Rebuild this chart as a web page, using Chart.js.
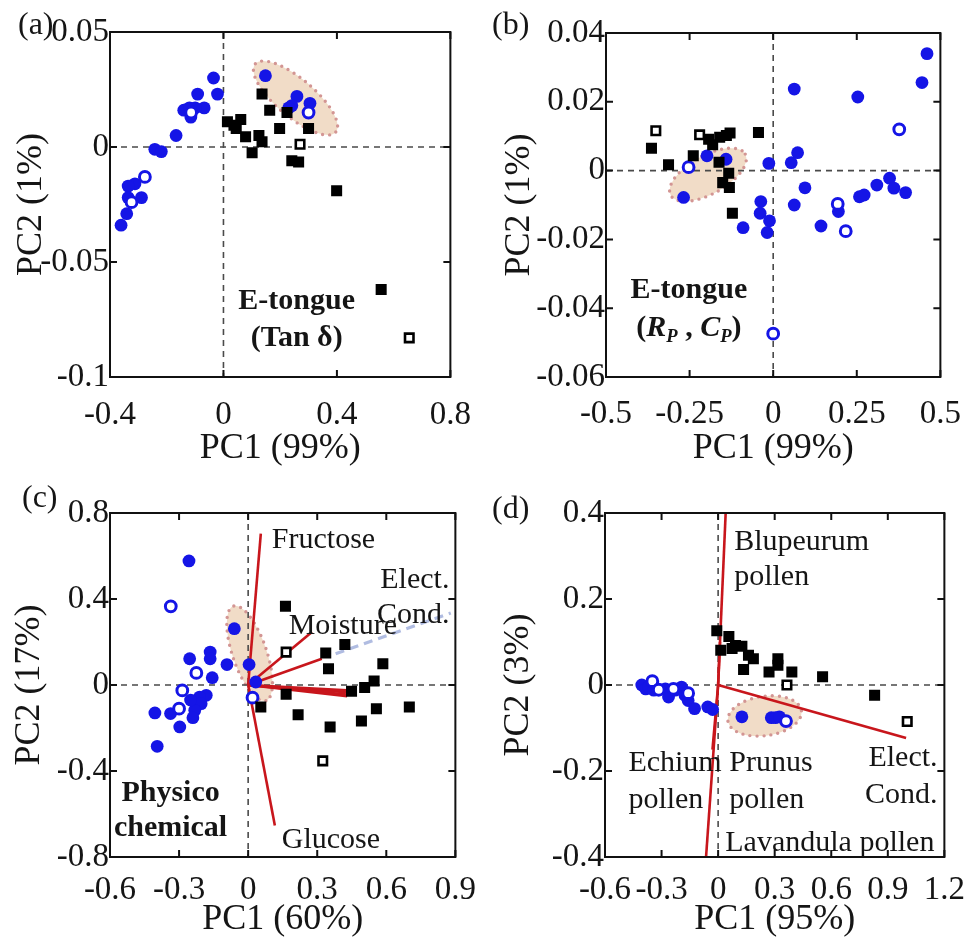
<!DOCTYPE html>
<html>
<head>
<meta charset="utf-8">
<script src="https://cdn.jsdelivr.net/npm/chart.js@4.4.1/dist/chart.umd.min.js"></script>
<style>
  body { margin: 0; background: #fff; width: 979px; height: 949px; position: relative; overflow: hidden; }
  .panel { position: absolute; }
  .tag { position: absolute; font-family: 'Liberation Serif', serif; font-size: 32px; line-height: 32px; color: #151515; }
</style>
</head>
<body>
<canvas id="chartA" class="panel" width="490" height="470" style="left:0;top:0"></canvas>
<canvas id="chartB" class="panel" width="489" height="470" style="left:490px;top:0"></canvas>
<canvas id="chartC" class="panel" width="490" height="479" style="left:0;top:470px"></canvas>
<canvas id="chartD" class="panel" width="489" height="479" style="left:490px;top:470px"></canvas>
<div class="tag" style="left:18px;top:7px">(a)</div>
<div class="tag" style="left:492px;top:7px">(b)</div>
<div class="tag" style="left:22px;top:480px">(c)</div>
<div class="tag" style="left:492px;top:491px">(d)</div>
<script>
// ---- panel (a): E-tongue (Tan d) ----
const aXTicks = [-0.4, 0, 0.4, 0.8];
const aYTicks = [-0.1, -0.05, 0, 0.05];
const aBlueFilled = [
  [-0.035, 0.030], [-0.021, 0.023], [-0.091, 0.023], [-0.068, 0.017], [-0.14, 0.016],
  [-0.12, 0.017], [-0.10, 0.017], [-0.115, 0.013], [-0.167, 0.005], [-0.242, -0.001],
  [-0.219, -0.002], [-0.312, -0.016], [-0.336, -0.017], [-0.289, -0.022], [-0.336, -0.022],
  [-0.341, -0.029], [-0.361, -0.034], [0.148, 0.031], [0.259, 0.022], [0.241, 0.018],
  [0.305, 0.019], [0.23, 0.017]
];
const aBlueOpen = [[-0.114, 0.015], [-0.277, -0.013], [-0.324, -0.024], [0.30, 0.015]];
const aBlackFilled = [
  [0.136, 0.023], [0.163, 0.016], [0.198, 0.008], [0.224, 0.015], [0.30, 0.008],
  [0.014, 0.011], [0.037, 0.0095], [0.061, 0.012], [0.045, 0.008], [0.078, 0.0045],
  [0.125, 0.005], [0.136, 0.0023], [0.101, -0.0025], [0.241, -0.006], [0.265, -0.0065],
  [0.399, -0.019], [0.556, -0.062]
];
const aBlackOpen = [[0.27, 0.0012], [0.655, -0.083]];

// ---- panel (b): E-tongue (Rp, Cp) ----
const bXTicks = [-0.5, -0.25, 0, 0.25, 0.5];
const bYTicks = [-0.06, -0.04, -0.02, 0, 0.02, 0.04];
const bBlueFilled = [
  [0.46, 0.034], [0.445, 0.0256], [0.063, 0.0237], [0.253, 0.0214], [0.073, 0.0052],
  [0.054, 0.0023], [-0.013, 0.0021], [0.095, -0.005], [0.063, -0.010], [-0.037, -0.009],
  [-0.039, -0.0124], [-0.011, -0.0146], [-0.018, -0.018], [-0.09, -0.0166], [0.143, -0.0161],
  [0.195, -0.0119], [0.258, -0.0076], [0.272, -0.0071], [0.31, -0.0042], [0.348, -0.0022],
  [0.361, -0.0051], [0.396, -0.0064], [-0.198, 0.0043], [-0.141, 0.0033], [-0.268, -0.0078]
];
const bBlueOpen = [[0.377, 0.012], [0.193, -0.0097], [0.217, -0.0176], [0, -0.0474], [-0.253, 0.001]];
const bBlackFilled = [
  [-0.364, 0.0065], [-0.313, 0.0017], [-0.239, 0.0043], [-0.193, 0.0091], [-0.181, 0.0075],
  [-0.16, 0.0097], [-0.129, 0.0109], [-0.14, 0.0102], [-0.044, 0.0111], [-0.162, 0.0024],
  [-0.133, -0.0008], [-0.151, -0.0035], [-0.131, -0.0049], [-0.122, -0.0124]
];
const bBlackOpen = [[-0.351, 0.0116], [-0.22, 0.0104]];

// ---- panel (c): physico-chemical ----
const cXTicks = [-0.6, -0.3, 0, 0.3, 0.6, 0.9];
const cYTicks = [-0.8, -0.4, 0, 0.4, 0.8];
const cBlueFilled = [
  [-0.257, 0.577], [-0.06, 0.262], [-0.254, 0.122], [-0.165, 0.153], [-0.165, 0.122],
  [-0.092, 0.095], [0.004, 0.095], [-0.156, 0.034], [0.033, 0.014], [-0.182, -0.048],
  [-0.211, -0.056], [-0.204, -0.087], [-0.232, -0.118], [-0.24, -0.152], [-0.297, -0.195],
  [-0.337, -0.133], [-0.405, -0.13], [-0.395, -0.285], [-0.25, -0.07]
];
const cBlueOpen = [[-0.336, 0.366], [-0.225, 0.056], [-0.286, -0.025], [-0.3, -0.11], [0.019, -0.059]];
const cBlackFilled = [
  [0.162, 0.366], [0.337, 0.149], [0.349, 0.076], [0.42, 0.188], [0.585, 0.099],
  [0.547, 0.019], [0.506, -0.012], [0.449, -0.029], [0.165, -0.043], [0.055, -0.102],
  [0.217, -0.138], [0.356, -0.195], [0.492, -0.167], [0.557, -0.11], [0.70, -0.102]
];
const cBlackOpen = [[0.165, 0.153], [0.324, -0.353]];
const cVectors = [
  [0.055, 0.704], [0.277, 0.247], [0.32, 0.122], [0.43, -0.025], [0.44, -0.035],
  [0.44, -0.045], [0.43, -0.052], [0.116, -0.653]
];
const cElectCond = [[0.38, 0.145], [0.88, 0.335]];

// ---- panel (d): pollen ----
const dXTicks = [-0.6, -0.3, 0, 0.3, 0.6, 0.9, 1.2];
const dYTicks = [-0.4, -0.2, 0, 0.2, 0.4];
const dBlueFilled = [
  [-0.405, 0], [-0.384, -0.009], [-0.367, -0.005], [-0.341, -0.012], [-0.28, -0.009],
  [-0.263, -0.028], [-0.228, -0.012], [-0.194, -0.005], [-0.176, -0.024], [-0.159, -0.036],
  [-0.125, -0.055], [-0.055, -0.051], [-0.029, -0.057], [0.126, -0.074], [0.282, -0.076],
  [0.304, -0.076], [0.325, -0.074]
];
const dBlueOpen = [[-0.349, 0.009], [-0.315, -0.011], [-0.237, -0.009], [-0.159, -0.019], [0.36, -0.084]];
const dBlackFilled = [
  [-0.007, 0.126], [0.057, 0.113], [0.014, 0.081], [0.092, 0.092], [0.126, 0.090],
  [0.161, 0.069], [0.187, 0.061], [0.135, 0.036], [0.27, 0.030], [0.317, 0.061],
  [0.317, 0.046], [0.391, 0.030], [0.554, 0.019], [0.83, -0.024], [0.074, 0.085]
];
const dBlackOpen = [[0.365, 0], [1.003, -0.085]];
const dVectors = [[0.04, 0.40], [0.997, -0.123], [-0.064, -0.40], [-0.03, -0.15], [0.01, 0.1]];

const FONT = "'Liberation Serif', 'Times New Roman', serif";
const INK = '#151515';
const BLUE = '#1515e6';
const RED = '#c8161c';

const pts = (arr) => arr.map(([x, y]) => ({ x, y }));
const fmtTick = (v) => String(+Number(v).toFixed(3));

function markerSets(blueFilled, blueOpen, blackFilled, blackOpen) {
  return [
    { data: pts(blackOpen), pointStyle: 'rect', pointRadius: 6, backgroundColor: '#fff', borderColor: '#000', borderWidth: 2.6, order: 0 },
    { data: pts(blackFilled), pointStyle: 'rect', pointRadius: 7.8, backgroundColor: '#000', borderColor: '#000', borderWidth: 0, order: 0 },
    { data: pts(blueOpen), pointStyle: 'circle', pointRadius: 5.4, backgroundColor: '#fff', borderColor: BLUE, borderWidth: 3, order: 0 },
    { data: pts(blueFilled), pointStyle: 'circle', pointRadius: 6.4, backgroundColor: BLUE, borderColor: BLUE, borderWidth: 0, order: 0 }
  ];
}

function vectorSets(vectors) {
  return vectors.map(([x, y]) => ({
    data: [{ x: 0, y: 0 }, { x, y }],
    showLine: true, pointRadius: 0, borderColor: RED, borderWidth: 2.6, order: 2
  }));
}

const framePlugin = {
  id: 'frame',
  beforeDatasetsDraw(chart, args, opts) {
    const { ctx, chartArea: a, scales: { x, y } } = chart;
    ctx.save();
    ctx.beginPath();
    ctx.rect(a.left, a.top, a.width, a.height);
    ctx.clip();
    (opts.ellipses || []).forEach((e) => {
      const cx = x.getPixelForValue(e.center[0]);
      const cy = y.getPixelForValue(e.center[1]);
      const ex = x.getPixelForValue(e.tip[0]);
      const ey = y.getPixelForValue(e.tip[1]);
      const r = Math.hypot(ex - cx, ey - cy);
      ctx.beginPath();
      ctx.ellipse(cx, cy, r, r * e.ratio, Math.atan2(ey - cy, ex - cx), 0, Math.PI * 2);
      ctx.fillStyle = '#f1dcc7';
      ctx.fill();
      ctx.setLineDash([0, 7]);
      ctx.lineCap = 'round';
      ctx.lineWidth = 3.4;
      ctx.strokeStyle = '#d39593';
      ctx.stroke();
    });
    // dashed zero lines
    const x0 = x.getPixelForValue(0);
    const y0 = y.getPixelForValue(0);
    ctx.setLineDash([6, 5]);
    ctx.lineCap = 'butt';
    ctx.lineWidth = 1.6;
    ctx.strokeStyle = '#4a4a4a';
    ctx.beginPath();
    ctx.moveTo(x0, a.top); ctx.lineTo(x0, a.bottom);
    ctx.moveTo(a.left, y0); ctx.lineTo(a.right, y0);
    ctx.stroke();
    ctx.restore();
  },
  afterDraw(chart, args, opts) {
    const { ctx, chartArea: a, scales: { x, y } } = chart;
    ctx.save();
    // box with inward ticks on all sides
    ctx.strokeStyle = '#111';
    ctx.lineWidth = 2;
    ctx.strokeRect(a.left, a.top, a.width, a.height);
    ctx.beginPath();
    x.ticks.forEach((t) => {
      const px = x.getPixelForValue(t.value);
      ctx.moveTo(px, a.bottom); ctx.lineTo(px, a.bottom - 7);
      ctx.moveTo(px, a.top); ctx.lineTo(px, a.top + 7);
    });
    y.ticks.forEach((t) => {
      const py = y.getPixelForValue(t.value);
      ctx.moveTo(a.left, py); ctx.lineTo(a.left + 7, py);
      ctx.moveTo(a.right, py); ctx.lineTo(a.right - 7, py);
    });
    ctx.stroke();
    // text notes
    ctx.fillStyle = INK;
    ctx.textBaseline = 'middle';
    (opts.notes || []).forEach((n) => {
      const px = x.getPixelForValue(n.x);
      const py = y.getPixelForValue(n.y);
      const parts = n.parts || [{ t: n.text }];
      const size = n.size || 30;
      const fontOf = (p) => `${p.italic ? 'italic ' : ''}${n.bold ? 'bold ' : ''}${p.sub ? size * 0.62 : size}px ${FONT}`;
      let total = 0;
      parts.forEach((p) => { ctx.font = fontOf(p); total += ctx.measureText(p.t).width; });
      let cur = n.align === 'right' ? px - total : n.align === 'center' ? px - total / 2 : px;
      ctx.textAlign = 'left';
      parts.forEach((p) => {
        ctx.font = fontOf(p);
        ctx.fillText(p.t, cur, p.sub ? py + size * 0.3 : py);
        cur += ctx.measureText(p.t).width;
      });
    });
    ctx.restore();
  }
};

function makePanel(id, p) {
  return new Chart(document.getElementById(id), {
    type: 'scatter',
    data: { datasets: p.datasets },
    options: {
      responsive: false,
      animation: false,
      layout: { padding: { left: 0, right: p.padRight, top: p.padTop, bottom: 0 } },
      plugins: {
        legend: { display: false },
        tooltip: { enabled: false },
        frame: { ellipses: p.ellipses, notes: p.notes }
      },
      scales: {
        x: {
          type: 'linear',
          min: p.xTicks[0],
          max: p.xTicks[p.xTicks.length - 1],
          afterBuildTicks: (s) => { s.ticks = p.xTicks.map((v) => ({ value: v })); },
          afterFit: (s) => { s.height = p.xAxisHeight; },
          grid: { display: false, drawTicks: false },
          border: { display: false },
          ticks: { font: { family: FONT, size: 33 }, color: INK, padding: p.xTickPad, maxRotation: 0, autoSkip: false, callback: fmtTick },
          title: { display: true, text: p.xTitle, font: { family: FONT, size: 36 }, color: INK, padding: { top: 0, bottom: p.xTitlePad } }
        },
        y: {
          type: 'linear',
          min: p.yTicks[0],
          max: p.yTicks[p.yTicks.length - 1],
          afterBuildTicks: (s) => { s.ticks = p.yTicks.map((v) => ({ value: v })); },
          afterFit: (s) => { s.width = p.yAxisWidth; },
          grid: { display: false, drawTicks: false },
          border: { display: false },
          ticks: { font: { family: FONT, size: 33 }, color: INK, padding: 1, autoSkip: false, callback: fmtTick },
          title: { display: true, text: p.yTitle, font: { family: FONT, size: 36 }, color: INK, padding: { top: p.yTitlePad, bottom: 0 } }
        }
      }
    },
    plugins: [framePlugin]
  });
}

makePanel('chartA', {
  xTicks: aXTicks, yTicks: aYTicks, xTitle: 'PC1 (99%)', yTitle: 'PC2 (1%)',
  yAxisWidth: 110, xAxisHeight: 93, padRight: 37, padTop: 32, xTickPad: 19, xTitlePad: 0, yTitlePad: 10,
  datasets: markerSets(aBlueFilled, aBlueOpen, aBlackFilled, aBlackOpen),
  ellipses: [{ center: [0.254, 0.0213], tip: [0.396, 0.0065], ratio: 0.36 }],
  notes: [
    { text: 'E-tongue', x: 0.258, y: -0.067, align: 'center', bold: true },
    { text: '(Tan δ)', x: 0.258, y: -0.083, align: 'center', bold: true }
  ]
});

makePanel('chartB', {
  xTicks: bXTicks, yTicks: bYTicks, xTitle: 'PC1 (99%)', yTitle: 'PC2 (1%)',
  yAxisWidth: 116, xAxisHeight: 93, padRight: 26, padTop: 33, xTickPad: 18, xTitlePad: 0, yTitlePad: 8,
  datasets: markerSets(bBlueFilled, bBlueOpen, bBlackFilled, bBlackOpen),
  ellipses: [{ center: [-0.195, -0.0012], tip: [-0.0836, 0.0048], ratio: 0.45 }],
  notes: [
    { text: 'E-tongue', x: -0.252, y: -0.0347, align: 'center', bold: true },
    {
      x: -0.252, y: -0.0458, align: 'center', bold: true,
      parts: [{ t: '(' }, { t: 'R', italic: true }, { t: 'P', italic: true, sub: true }, { t: ' , ' },
        { t: 'C', italic: true }, { t: 'P', italic: true, sub: true }, { t: ')' }]
    }
  ]
});

makePanel('chartC', {
  xTicks: cXTicks, yTicks: cYTicks, xTitle: 'PC1 (60%)', yTitle: 'PC2 (17%)',
  yAxisWidth: 110, xAxisHeight: 92, padRight: 32, padTop: 43, xTickPad: 14, xTitlePad: 8, yTitlePad: 8,
  datasets: markerSets(cBlueFilled, cBlueOpen, cBlackFilled, cBlackOpen)
    .concat(vectorSets(cVectors))
    .concat([{ data: pts(cElectCond), showLine: true, pointRadius: 0, borderColor: 'rgba(150,165,215,0.75)', borderWidth: 3.2, borderDash: [9, 6], order: 3 }]),
  ellipses: [{ center: [0.0065, 0.147], tip: [0.077, -0.073], ratio: 0.34 }],
  notes: [
    { text: 'Fructose', x: 0.103, y: 0.674, align: 'left' },
    { text: 'Elect.', x: 0.874, y: 0.488, align: 'right' },
    { text: 'Cond.', x: 0.874, y: 0.326, align: 'right' },
    { text: 'Moisture', x: 0.176, y: 0.274, align: 'left' },
    { text: 'Glucose', x: 0.146, y: -0.721, align: 'left' },
    { text: 'Physico', x: -0.337, y: -0.502, align: 'center', bold: true },
    { text: 'chemical', x: -0.337, y: -0.665, align: 'center', bold: true }
  ]
});

makePanel('chartD', {
  xTicks: dXTicks, yTicks: dYTicks, xTitle: 'PC1 (95%)', yTitle: 'PC2 (3%)',
  yAxisWidth: 115, xAxisHeight: 92, padRight: 27, padTop: 43, xTickPad: 14, xTitlePad: 8, yTitlePad: 7,
  datasets: markerSets(dBlueFilled, dBlueOpen, dBlackFilled, dBlackOpen).concat(vectorSets(dVectors)),
  ellipses: [{ center: [0.247, -0.072], tip: [0.442, -0.06], ratio: 0.53 }],
  notes: [
    { text: 'Blupeurum', x: 0.085, y: 0.333, align: 'left' },
    { text: 'pollen', x: 0.085, y: 0.251, align: 'left' },
    { text: 'Echium', x: -0.476, y: -0.181, align: 'left' },
    { text: 'pollen', x: -0.476, y: -0.267, align: 'left' },
    { text: 'Prunus', x: 0.059, y: -0.181, align: 'left' },
    { text: 'pollen', x: 0.059, y: -0.267, align: 'left' },
    { text: 'Elect.', x: 1.164, y: -0.170, align: 'right' },
    { text: 'Cond.', x: 1.164, y: -0.256, align: 'right' },
    { text: 'Lavandula pollen', x: 0.038, y: -0.367, align: 'left' }
  ]
});
</script>
</body>
</html>
